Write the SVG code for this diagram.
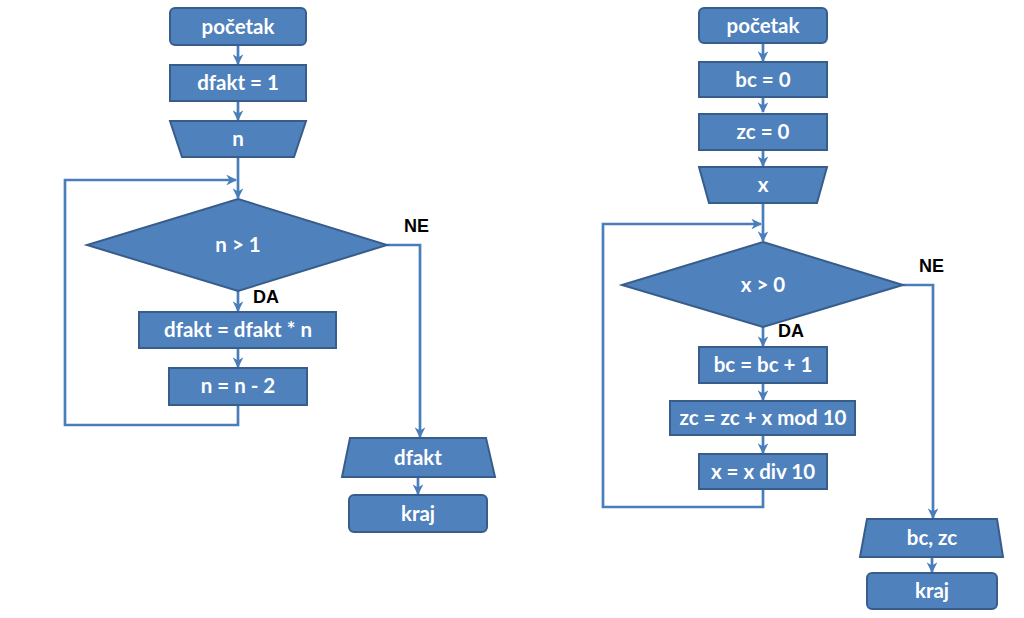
<svg xmlns="http://www.w3.org/2000/svg" width="1024" height="618" viewBox="0 0 1024 618">
<style>
.box{fill:#4F81BD;stroke:#385D8A;stroke-width:2}
.t{font-family:Lato,"Open Sans",sans-serif;font-weight:bold;font-size:20.5px;fill:#fff;text-anchor:middle}
.lbl{font-family:"Liberation Sans",Arial,sans-serif;font-weight:bold;font-size:18px;fill:#000}
.c{fill:none;stroke:#4A7EBB;stroke-width:2.7}
</style>
<defs>
<marker id="a" viewBox="0 0 10 10" refX="9" refY="5" markerWidth="4" markerHeight="4" orient="auto" markerUnits="strokeWidth">
<path d="M0,0 L10,5 L0,10 L3,5 z" fill="#4A7EBB"/>
</marker>
</defs>
<rect width="1024" height="618" fill="#fff"/>
<g id="connectors">
<path class="c" d="M238,45 V64" marker-end="url(#a)"/>
<path class="c" d="M238,101 V120" marker-end="url(#a)"/>
<path class="c" d="M238,157 V198" marker-end="url(#a)"/>
<path class="c" d="M238,405 V425 H65 V180 H236" marker-end="url(#a)"/>
<path class="c" d="M238,291 V311" marker-end="url(#a)"/>
<path class="c" d="M238,348 V367" marker-end="url(#a)"/>
<path class="c" d="M387,245 H420 V437" marker-end="url(#a)"/>
<path class="c" d="M418,477 V494" marker-end="url(#a)"/>
<path class="c" d="M763,43 V61" marker-end="url(#a)"/>
<path class="c" d="M763,97 V112" marker-end="url(#a)"/>
<path class="c" d="M763,150 V166" marker-end="url(#a)"/>
<path class="c" d="M763,203 V241" marker-end="url(#a)"/>
<path class="c" d="M763,489 V507 H603 V224 H761" marker-end="url(#a)"/>
<path class="c" d="M763,327 V346" marker-end="url(#a)"/>
<path class="c" d="M763,383 V400" marker-end="url(#a)"/>
<path class="c" d="M763,435 V453" marker-end="url(#a)"/>
<path class="c" d="M903,285 H933 V518" marker-end="url(#a)"/>
<path class="c" d="M932,557 V572" marker-end="url(#a)"/>
</g>
<g id="n1"><rect class="box" x="170" y="8" width="136" height="37" rx="5"/><text class="t" x="238" y="34">početak</text></g>
<g id="n2"><rect class="box" x="170" y="65" width="136" height="36"/><text class="t" x="238" y="90">dfakt = 1</text></g>
<g id="n3"><polygon class="box" points="170,121 306,121 294,157 182,157"/><text class="t" x="238" y="146">n</text></g>
<g id="n4"><polygon class="box" points="238,199 387,245 238,291 87,245"/><text class="t" x="238" y="252">n &gt; 1</text></g>
<g id="n5"><rect class="box" x="139" y="312" width="197" height="36"/><text class="t" x="238" y="337">dfakt = dfakt * n</text></g>
<g id="n6"><rect class="box" x="169" y="368" width="138" height="37"/><text class="t" x="238" y="393">n = n - 2</text></g>
<g id="n7"><polygon class="box" points="350,438 486,438 495,477 342,477"/><text class="t" x="418" y="465">dfakt</text></g>
<g id="n8"><rect class="box" x="349" y="495" width="138" height="37" rx="5"/><text class="t" x="418" y="521">kraj</text></g>
<text class="lbl" x="404" y="232">NE</text>
<text class="lbl" x="253" y="303">DA</text>
<g id="m1"><rect class="box" x="699" y="8" width="128" height="35" rx="5"/><text class="t" x="763" y="33">početak</text></g>
<g id="m2"><rect class="box" x="699" y="62" width="128" height="35"/><text class="t" x="763" y="87">bc = 0</text></g>
<g id="m3"><rect class="box" x="699" y="114" width="128" height="36"/><text class="t" x="763" y="139">zc = 0</text></g>
<g id="m4"><polygon class="box" points="699,167 827,167 817,203 709,203"/><text class="t" x="763" y="192">x</text></g>
<g id="m5"><polygon class="box" points="763,242 903,285 763,327 622,285"/><text class="t" x="763" y="292">x &gt; 0</text></g>
<g id="m6"><rect class="box" x="699" y="347" width="128" height="36"/><text class="t" x="763" y="372">bc = bc + 1</text></g>
<g id="m7"><rect class="box" x="670" y="401" width="185" height="34"/><text class="t" x="763" y="425">zc = zc + x mod 10</text></g>
<g id="m8"><rect class="box" x="699" y="454" width="128" height="35"/><text class="t" x="763" y="479">x = x div 10</text></g>
<g id="m9"><polygon class="box" points="867,519 997,519 1003,557 860,557"/><text class="t" x="932" y="545">bc, zc</text></g>
<g id="m10"><rect class="box" x="867" y="573" width="130" height="36" rx="5"/><text class="t" x="932" y="598">kraj</text></g>
<text class="lbl" x="919" y="272">NE</text>
<text class="lbl" x="778" y="337">DA</text>
</svg>
